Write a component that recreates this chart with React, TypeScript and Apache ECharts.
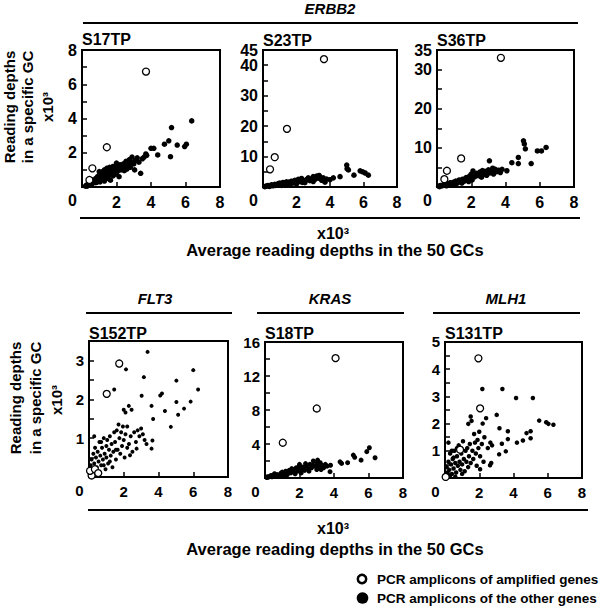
import React, { useEffect, useRef } from 'react';
import * as echarts from 'echarts';

const FONT = '"Liberation Sans", Arial, Helvetica, sans-serif';

// ---------- tick labels ----------
const xTickLabels = [2, 4, 6, 8];
const s17YLabels = [2, 4, 6, 8];
const s23YLabels = [10, 20, 30, 40, 45];
const s36YLabels = [10, 20, 30, 35];
const s152YLabels = [1, 2, 3];
const s18YLabels = [4, 8, 12, 16];
const s131YLabels = [1, 2, 3, 4, 5];

// ---------- texts ----------
const geneTop = 'ERBB2';
const genesBottom = ['FLT3', 'KRAS', 'MLH1'];
const sampleNames = ['S17TP', 'S23TP', 'S36TP', 'S152TP', 'S18TP', 'S131TP'];
const yTitleLines = ['Reading depths', 'in a specific GC', 'x10³'];
const xTitleLines = ['x10³', 'Average reading depths in the 50 GCs'];
const legendLabels = ['PCR amplicons of amplified genes', 'PCR amplicons of the other genes'];

// ---------- data (x10^3) ----------
const s17Other = [
  [0.2,0.05],[0.25,0.1],[0.3,0.12],[0.3,0.05],[0.35,0.15],[0.4,0.2],[0.45,0.1],[0.5,0.25],[0.5,0.15],[0.55,0.3],[0.6,0.2],[0.6,0.4],
  [0.65,0.35],[0.7,0.4],[0.75,0.3],[0.8,0.5],[0.8,0.25],[0.85,0.45],[0.9,0.6],[0.9,0.3],[0.95,0.4],[1.0,0.7],[1.0,0.5],[1.0,0.9],
  [1.05,0.3],[1.1,0.8],[1.1,0.6],[1.15,0.45],[1.2,0.9],[1.2,0.7],[1.25,0.55],[1.3,1.0],[1.3,0.35],[1.35,0.75],[1.4,0.6],[1.4,0.9],
  [1.45,1.1],[1.5,0.8],[1.5,0.5],[1.55,0.95],[1.6,0.7],[1.6,1.15],[1.65,0.4],[1.7,0.85],[1.75,1.0],[1.8,0.65],[1.8,1.2],[1.85,0.9],
  [1.9,1.05],[1.95,0.75],[2.0,1.4],[2.0,1.1],[2.05,0.9],[2.1,1.25],[2.15,0.6],[2.2,1.3],[2.25,1.0],[2.3,1.15],[2.4,1.35],[2.45,0.95],
  [2.5,1.2],[2.55,1.5],[2.6,1.05],[2.7,1.3],[2.75,1.6],[2.8,1.15],[2.85,1.45],[2.9,1.75],[3.0,1.35],[3.05,1.0],[3.1,1.55],[3.2,1.7],
  [3.3,1.45],[3.4,0.8],[3.5,1.65],[3.6,1.75],[3.7,1.93],[3.75,1.85],[4.0,2.26],[4.16,2.26],[4.39,1.87],[4.78,2.5],[5.03,2.7],
  [5.13,1.77],[5.19,3.47],[5.52,2.45],[5.95,2.36],[6.05,2.5],[6.36,3.86]
];
const s17Amplified = [[0.43,0.41],[0.6,1.09],[1.44,2.32],[3.71,6.74]];

const s23Other = [
  [0.1,0.1],[0.15,0.2],[0.2,0.3],[0.3,0.5],[0.35,0.3],[0.4,0.2],[0.5,0.7],[0.55,0.6],[0.6,0.4],[0.7,0.9],[0.75,0.5],[0.8,0.6],
  [0.9,1.1],[1.0,0.8],[1.0,1.3],[1.1,0.5],[1.15,1.2],[1.2,1.5],[1.3,1.0],[1.35,0.7],[1.4,1.7],[1.5,1.2],[1.55,1.6],[1.6,0.8],
  [1.7,1.9],[1.75,1.3],[1.8,1.4],[1.9,2.2],[2.0,1.6],[2.0,1.0],[2.1,2.5],[2.15,2.0],[2.2,1.8],[2.3,2.8],[2.35,1.5],[2.4,2.0],
  [2.5,1.4],[2.55,2.2],[2.6,2.4],[2.7,3.0],[2.75,2.5],[2.8,2.1],[2.9,2.7],[3.0,3.4],[3.0,1.8],[3.1,2.5],[3.15,2.9],[3.2,3.6],
  [3.3,2.9],[3.35,3.8],[3.4,3.3],[3.5,2.2],[3.55,2.7],[3.6,3.0],[3.7,1.6],[3.8,2.6],[4.0,2.4],[4.2,3.0],[4.6,3.4],[5.0,7.2],
  [5.02,6.0],[5.1,5.6],[5.43,3.9],[5.8,5.3],[5.95,5.0],[6.1,4.6],[6.29,3.9]
];
const s23Amplified = [[0.42,5.8],[0.7,9.8],[1.43,19.1],[3.64,42]];

const s36Other = [
  [0.1,0.2],[0.15,0.1],[0.2,0.4],[0.3,0.3],[0.35,0.5],[0.4,0.7],[0.5,0.5],[0.55,0.3],[0.6,0.9],[0.7,0.6],[0.75,1.0],[0.8,1.1],
  [0.9,0.8],[0.95,0.5],[1.0,1.3],[1.0,0.9],[1.1,1.5],[1.15,0.9],[1.2,1.1],[1.25,1.4],[1.3,1.8],[1.4,1.3],[1.45,1.0],[1.5,2.0],
  [1.6,1.5],[1.65,2.0],[1.7,2.4],[1.8,1.8],[1.85,1.4],[1.9,2.8],[2.0,2.2],[2.0,3.3],[2.05,1.8],[2.1,4.1],[2.2,2.6],[2.3,3.5],
  [2.4,2.9],[2.45,3.4],[2.5,3.8],[2.6,2.5],[2.65,4.2],[2.7,3.2],[2.8,4.0],[2.85,3.5],[2.9,3.0],[3.0,4.4],[3.06,6.7],[3.1,3.6],
  [3.2,4.1],[3.25,4.8],[3.3,3.3],[3.4,4.5],[3.5,3.9],[3.6,4.3],[3.7,3.7],[3.8,4.5],[4.08,4.15],[4.37,6.2],[4.75,7.55],[4.75,6.0],
  [5.05,11.8],[5.1,11.0],[5.16,9.75],[5.5,6.0],[5.86,9.2],[6.1,9.2],[6.37,10.1]
];
const s36Amplified = [[0.43,2.0],[0.58,4.15],[1.41,7.3],[3.73,33]];

const s152Other = [
  [3.37,3.22],[2.13,2.77],[3.16,2.57],[6.0,2.75],[6.28,2.25],[1.45,2.25],[5.03,2.48],[3.03,2.09],[4.2,2.15],[4.1,2.1],[3.6,1.83],
  [2.29,1.83],[2.45,1.73],[2.0,1.73],[2.1,1.66],[5.03,1.93],[5.85,1.94],[5.47,1.76],[4.37,1.7],[5.13,1.6],[3.69,1.49],[4.71,1.29],
  [3.65,0.94],[3.6,0.73],[3.31,0.85],[2.74,0.73],[2.36,0.56],
  [0.1,0.3],[0.15,0.45],[0.2,0.2],[0.25,0.6],[0.3,0.35],[0.3,1.05],[0.35,0.75],[0.4,0.5],[0.45,0.25],[0.5,0.65],[0.5,0.15],
  [0.55,0.4],[0.6,0.9],[0.65,0.55],[0.7,0.3],[0.7,0.9],[0.75,0.75],[0.8,0.45],[0.85,1.0],[0.85,0.3],[0.9,0.6],[0.95,0.2],
  [1.0,0.8],[1.0,0.5],[1.05,0.95],[1.1,0.35],[1.15,0.7],[1.2,1.05],[1.2,0.4],[1.25,0.55],[1.3,0.85],[1.35,0.25],[1.4,0.65],
  [1.45,1.15],[1.5,0.9],[1.55,0.45],[1.55,0.7],[1.6,1.2],[1.65,0.7],[1.7,1.35],[1.75,1.0],[1.8,0.6],[1.85,1.15],[1.9,0.8],
  [1.95,1.3],[2.0,0.95],[2.05,0.5],[2.1,1.1],[2.2,1.3],[2.2,0.75],[2.3,0.85],[2.4,1.05],[2.5,0.65],[2.6,1.15],[2.7,0.9],
  [2.8,1.2],[2.9,1.05],[3.0,1.25],[3.1,1.1],[3.2,0.95]
];
const s152Amplified = [[0.15,0.04],[0.06,0.16],[0.34,0.2],[0.53,0.1],[1.02,2.14],[1.74,2.92]];

const s18Other = [
  [0.1,0.05],[0.15,0.15],[0.2,0.1],[0.3,0.2],[0.35,0.3],[0.4,0.15],[0.5,0.3],[0.55,0.5],[0.6,0.2],[0.7,0.4],[0.75,0.2],[0.8,0.3],
  [0.9,0.5],[0.95,0.6],[1.0,0.35],[1.0,0.7],[1.1,0.5],[1.15,0.3],[1.2,0.8],[1.3,0.4],[1.35,0.7],[1.4,0.9],[1.5,0.6],[1.55,1.1],
  [1.6,1.0],[1.7,0.7],[1.75,0.5],[1.8,1.2],[1.9,0.8],[1.95,1.3],[2.0,1.6],[2.0,1.0],[2.1,0.6],[2.15,1.0],[2.2,1.3],[2.3,0.9],
  [2.35,1.7],[2.4,1.4],[2.5,1.1],[2.55,0.8],[2.6,1.6],[2.7,1.2],[2.75,1.5],[2.8,2.0],[2.9,1.4],[3.0,1.0],[3.0,1.7],[3.05,2.1],
  [3.1,1.3],[3.2,1.8],[3.25,1.0],[3.3,1.5],[3.4,1.2],[3.5,1.6],[3.6,1.4],[3.77,0.74],[3.8,1.5],[4.35,1.9],[4.44,1.72],[4.79,1.8],
  [5.12,2.7],[5.2,2.43],[5.57,2.1],[5.9,3.1],[6.05,3.56],[6.38,2.38]
];
const s18Amplified = [[1.03,4.15],[3.0,8.18],[4.09,14.1]];

const s131Other = [
  [2.18,3.27],[3.35,3.27],[4.15,2.94],[5.13,2.94],[5.5,2.11],[5.91,2.05],[6.04,1.99],[6.33,1.96],[3.02,2.32],[3.18,1.83],
  [3.67,1.72],[4.76,1.65],[5.0,1.72],[5.0,1.46],[4.55,1.38],[4.2,1.3],[3.67,1.43],[3.32,1.26],[3.55,0.98],[3.16,0.87],
  [2.65,1.3],[2.75,1.2],[2.63,0.47],[2.7,0.55],[2.05,0.32],[1.5,2.26],[1.36,1.99],[1.55,2.1],[1.7,1.62],[2.4,2.2],[2.2,2.0],
  [2.3,1.5],[2.5,1.1],[2.0,1.7],[1.9,1.4],
  [0.05,0.1],[0.1,0.4],[0.15,0.2],[0.2,0.6],[0.2,1.3],[0.25,0.3],[0.3,0.9],[0.3,0.1],[0.35,0.5],[0.4,0.15],[0.4,1.0],
  [0.45,0.7],[0.5,0.35],[0.5,0.75],[0.55,1.0],[0.6,0.55],[0.6,0.05],[0.65,0.2],[0.7,0.8],[0.7,1.1],[0.75,0.45],[0.8,1.2],
  [0.85,0.6],[0.9,0.3],[0.95,0.9],[1.0,0.5],[1.0,0.15],[1.05,1.35],[1.1,0.7],[1.15,0.25],[1.2,1.0],[1.25,0.6],[1.3,1.1],
  [1.35,0.4],[1.4,0.8],[1.45,1.25],[1.5,0.55],[1.6,1.0],[1.65,0.7],[1.75,1.3],[1.8,0.9],[1.85,0.45],[1.95,1.1],[2.05,0.8],
  [2.15,1.25],[2.25,0.6]
];
const s131Amplified = [[0.04,0.04],[0.88,1.04],[2.05,2.56],[1.95,4.4]];

// ---------- panel layout ----------
type Panel = {
  other: number[][]; amp: number[][]; yMax: number; yInt: number; yLabels: number[];
  left: number; top: number; w: number; h: number; fs: number; dot: number;
};

const panels: Panel[] = [
  { other: s17Other, amp: s17Amplified, yMax: 8, yInt: 2, yLabels: s17YLabels, left: 82, top: 50, w: 138, h: 137, fs: 16, dot: 5.5 },
  { other: s23Other, amp: s23Amplified, yMax: 45, yInt: 10, yLabels: s23YLabels, left: 263, top: 50, w: 134, h: 137, fs: 16, dot: 5.5 },
  { other: s36Other, amp: s36Amplified, yMax: 35, yInt: 10, yLabels: s36YLabels, left: 437, top: 50, w: 137, h: 137, fs: 16, dot: 5.5 },
  { other: s152Other, amp: s152Amplified, yMax: 3.5, yInt: 1, yLabels: s152YLabels, left: 89, top: 341, w: 139, h: 136, fs: 15, dot: 4 },
  { other: s18Other, amp: s18Amplified, yMax: 16, yInt: 4, yLabels: s18YLabels, left: 265, top: 342, w: 138, h: 136, fs: 15, dot: 5 },
  { other: s131Other, amp: s131Amplified, yMax: 5, yInt: 1, yLabels: s131YLabels, left: 445, top: 342, w: 137, h: 136, fs: 15, dot: 4.5 },
];

const txt = (x: number, y: number, text: string, font: string, align = 'left', rotation = 0) => ({
  type: 'text', x, y, rotation, silent: true, z: 100,
  style: { text, font, fill: '#000', align, textAlign: align, verticalAlign: 'middle', textVerticalAlign: 'middle' },
});
const hline = (x1: number, x2: number, y: number) => ({
  type: 'line', silent: true, shape: { x1, y1: y, x2, y2: y }, style: { stroke: '#000', lineWidth: 2 },
});

export default function App() {
  const ref = useRef<HTMLDivElement>(null);
  useEffect(() => {
    if (!ref.current) return;
    const chart = echarts.init(ref.current, undefined, { renderer: 'svg' });

    const grids = panels.map((p) => ({
      left: p.left, top: p.top, width: p.w, height: p.h, show: true, borderColor: '#000', borderWidth: 2,
    }));
    const xAxes = panels.map((p, i) => ({
      gridIndex: i, type: 'value', min: 0, max: 8, interval: 2,
      axisLine: { show: true, onZero: false, lineStyle: { color: '#000', width: 2 } },
      axisTick: { show: true, inside: true, length: 5, lineStyle: { color: '#000', width: 1.5 } },
      axisLabel: {
        formatter: (v: number) => (xTickLabels.includes(v) ? String(v) : ''),
        color: '#000', fontWeight: 'bold', fontSize: p.fs, fontFamily: FONT, margin: 7,
      },
      splitLine: { show: false },
    }));
    const yAxes = panels.map((p, i) => ({
      gridIndex: i, type: 'value', min: 0, max: p.yMax, interval: p.yInt,
      axisLine: { show: true, onZero: false, lineStyle: { color: '#000', width: 2 } },
      axisTick: { show: true, inside: true, length: 5, lineStyle: { color: '#000', width: 1.5 } },
      minorTick: { show: true, splitNumber: 2, length: 5, lineStyle: { color: '#000', width: 1.5 } },
      axisLabel: { show: false },
      splitLine: { show: false },
      minorSplitLine: { show: false },
    }));
    const series: any[] = [];
    panels.forEach((p, i) => {
      series.push({
        type: 'scatter', xAxisIndex: i, yAxisIndex: i, data: p.other, symbol: 'circle', symbolSize: p.dot,
        itemStyle: { color: '#000', opacity: 1 }, z: 2, silent: true, clip: false,
      });
      series.push({
        type: 'scatter', xAxisIndex: i, yAxisIndex: i, data: p.amp, symbol: 'circle', symbolSize: 7,
        itemStyle: { color: '#fff', borderColor: '#000', borderWidth: 1.3, opacity: 1 }, z: 3, silent: true, clip: false,
      });
    });

    chart.setOption({
      animation: false,
      backgroundColor: '#fff',
      textStyle: { fontFamily: FONT },
      grid: grids,
      xAxis: xAxes,
      yAxis: yAxes,
      series,
    });

    const B16 = `bold 16px ${FONT}`;
    const B15 = `bold 15px ${FONT}`;
    const BX = `bold 16.5px ${FONT}`;
    const BI15 = `italic bold 15px ${FONT}`;
    const nameY = [39, 40, 40, 333, 333, 333];
    const graphics: any[] = [
      txt(330, 8, geneTop, BI15, 'center'),
      hline(83, 578, 23),
      hline(80, 580, 218),
      txt(333, 233, xTitleLines[0], B16, 'center'),
      txt(335, 250, xTitleLines[1], BX, 'center'),
      txt(9, 107, yTitleLines[0], B15, 'center', Math.PI / 2),
      txt(27, 107, yTitleLines[1], B15, 'center', Math.PI / 2),
      txt(47, 107, yTitleLines[2], B15, 'center', Math.PI / 2),
      txt(155, 298, genesBottom[0], BI15, 'center'),
      txt(330, 298, genesBottom[1], BI15, 'center'),
      txt(506, 298, genesBottom[2], BI15, 'center'),
      hline(86, 232, 313),
      hline(257, 404, 313),
      hline(433, 580, 313),
      hline(88, 588, 510),
      txt(333, 528, xTitleLines[0], B16, 'center'),
      txt(335, 549, xTitleLines[1], BX, 'center'),
      txt(15, 398, yTitleLines[0], B15, 'center', Math.PI / 2),
      txt(35, 398, yTitleLines[1], B15, 'center', Math.PI / 2),
      txt(56, 400, yTitleLines[2], B15, 'center', Math.PI / 2),
      { type: 'circle', silent: true, shape: { cx: 362, cy: 579, r: 4.2 }, style: { fill: '#fff', stroke: '#000', lineWidth: 2.5 } },
      { type: 'circle', silent: true, shape: { cx: 362.5, cy: 598, r: 5.8 }, style: { fill: '#000' } },
      txt(377, 579.5, legendLabels[0], `bold 13.5px ${FONT}`, 'left'),
      txt(377, 598.5, legendLabels[1], `bold 13.5px ${FONT}`, 'left'),
      ...panels.map((p, i) => txt(p.left, nameY[i], sampleNames[i], B16, 'left')),
    ];

    // y tick labels: grouped into evenly spaced runs, each drawn as one multi-line text,
    // with positions and line spacing taken from the y axis scale
    panels.forEach((p, i) => {
      const vals = [...p.yLabels].sort((a, b) => b - a);
      const pts = vals.map((v) => chart.convertToPixel({ gridIndex: i }, [0, v]) as number[]);
      const groups: { vals: number[]; ys: number[] }[] = [];
      vals.forEach((v, k) => {
        const g = groups[groups.length - 1];
        if (!g) { groups.push({ vals: [v], ys: [pts[k][1]] }); return; }
        if (g.ys.length === 1) { g.vals.push(v); g.ys.push(pts[k][1]); return; }
        const step = g.ys[1] - g.ys[0];
        const d = pts[k][1] - g.ys[g.ys.length - 1];
        if (Math.abs(d - step) < 0.6) { g.vals.push(v); g.ys.push(pts[k][1]); }
        else groups.push({ vals: [v], ys: [pts[k][1]] });
      });
      // make a 2-element group whose spacing differs from the next run a single-line group
      const final: { vals: number[]; ys: number[] }[] = [];
      groups.forEach((g) => {
        if (g.vals.length === 2 && groups.length > 1) {
          final.push({ vals: [g.vals[0]], ys: [g.ys[0]] });
          final.push({ vals: [g.vals[1]], ys: [g.ys[1]] });
        } else final.push(g);
      });
      const x = pts[0][0] - 5;
      final.forEach((g) => {
        const lh = g.ys.length > 1 ? g.ys[1] - g.ys[0] : p.fs + 2;
        graphics.push({
          type: 'text', x, y: g.ys[0] - lh / 2, silent: true, z: 100,
          style: {
            text: g.vals.map(String).join('\n'), font: `bold ${p.fs}px ${FONT}`, fill: '#000',
            align: 'right', verticalAlign: 'top', lineHeight: lh,
          },
        });
      });
      const o = chart.convertToPixel({ gridIndex: i }, [0, 0]) as number[];
      graphics.push(txt(o[0] - 9.5, o[1] + 13.5, '0', `bold ${p.fs}px ${FONT}`, 'center'));
    });

    chart.setOption({ graphic: graphics });
    return () => chart.dispose();
  }, []);
  return <div ref={ref} style={{ position: 'absolute', left: 0, top: 0, width: 600, height: 608 }} />;
}
